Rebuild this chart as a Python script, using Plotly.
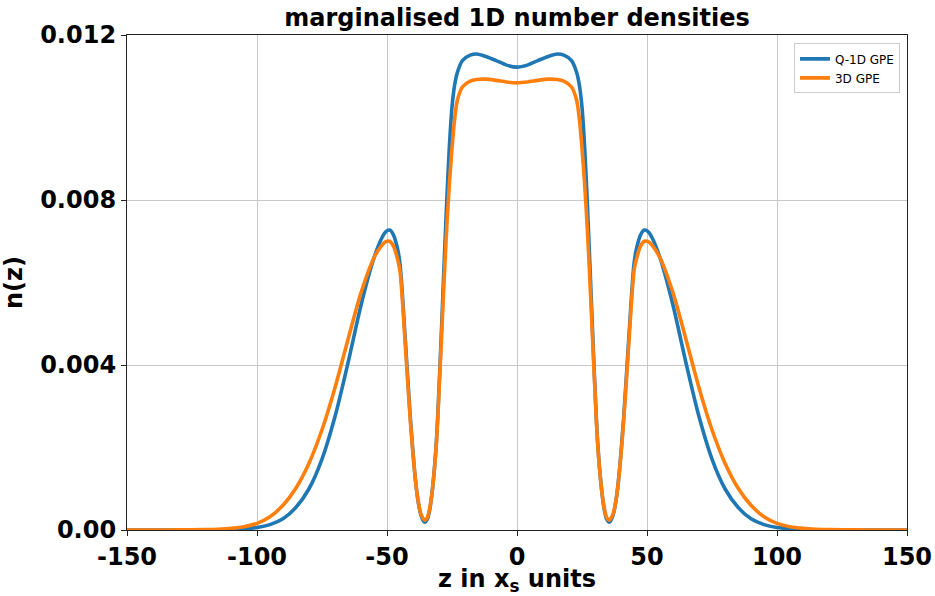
import plotly.graph_objects as go

# z positions (x_s units)
z = [-150, -140, -130, -120, -115, -110, -105, -100, -95, -90, -85, -80, -75, -70,
     -65, -60, -55, -52, -50.5, -49, -47.5, -46, -45, -43, -41, -39, -38, -37, -36,
     -35.4, -34.5, -33.5, -32.5, -31, -29.6, -28, -27, -26, -25, -24, -23, -21,
     -18, -15.5, -12, -8, -4, 0,
     4, 8, 12, 15.5, 18, 21, 23, 24, 25, 26, 27, 28, 29.6, 31, 32.5, 33.5, 34.5,
     35.4, 36, 37, 38, 39, 41, 43, 45, 46, 47.5, 49, 50.5, 52, 55, 60, 65, 70, 75,
     80, 85, 90, 95, 100, 105, 110, 115, 120, 130, 140, 150]

# Q-1D GPE
n_q1d = [0, 0, 0.000001, 0.000003, 0.000006, 0.000014, 0.00003, 0.00006, 0.00013,
         0.00027, 0.00055, 0.00100, 0.00172, 0.00275, 0.00405, 0.00545, 0.00660,
         0.00708, 0.00723, 0.00727, 0.00715, 0.00683, 0.00645, 0.00465, 0.00270,
         0.00118, 0.00068, 0.00037, 0.00022, 0.00019, 0.00026, 0.00052, 0.00100,
         0.00215, 0.00400, 0.00650, 0.00800, 0.00930, 0.01025, 0.01078, 0.01108,
         0.01138, 0.01151, 0.01154, 0.01148, 0.01138, 0.01127, 0.01122,
         0.01127, 0.01138, 0.01148, 0.01154, 0.01151, 0.01138, 0.01108, 0.01078,
         0.01025, 0.00930, 0.00800, 0.00650, 0.00400, 0.00215, 0.00100, 0.00052,
         0.00026, 0.00019, 0.00022, 0.00037, 0.00068, 0.00118, 0.00270, 0.00465,
         0.00645, 0.00683, 0.00715, 0.00727, 0.00723, 0.00708, 0.00660, 0.00545,
         0.00405, 0.00275, 0.00172, 0.00100, 0.00055, 0.00027, 0.00013, 0.00006,
         0.00003, 0.000014, 0.000006, 0.000003, 0.000001, 0, 0]

# 3D GPE
n_3d = [0, 0.000001, 0.000003, 0.00001, 0.00002, 0.00004, 0.00008, 0.00016, 0.00032,
        0.00060, 0.00102, 0.00162, 0.00243, 0.00345, 0.00462, 0.00575, 0.00660,
        0.00690, 0.00699, 0.00700, 0.00688, 0.00658, 0.00628, 0.00452, 0.00262,
        0.00118, 0.00070, 0.00040, 0.00027, 0.00024, 0.00030, 0.00055, 0.00100,
        0.00210, 0.00390, 0.00610, 0.00735, 0.00840, 0.00925, 0.00995, 0.01040,
        0.01074, 0.01088, 0.01092, 0.01093, 0.01090, 0.01086, 0.01084,
        0.01086, 0.01090, 0.01093, 0.01092, 0.01088, 0.01074, 0.01040, 0.00995,
        0.00925, 0.00840, 0.00735, 0.00610, 0.00390, 0.00210, 0.00100, 0.00055,
        0.00030, 0.00024, 0.00027, 0.00040, 0.00070, 0.00118, 0.00262, 0.00452,
        0.00628, 0.00658, 0.00688, 0.00700, 0.00699, 0.00690, 0.00660, 0.00575,
        0.00462, 0.00345, 0.00243, 0.00162, 0.00102, 0.00060, 0.00032, 0.00016,
        0.00008, 0.00004, 0.00002, 0.00001, 0.000003, 0.000001, 0]

x_ticks = [-150, -100, -50, 0, 50, 100, 150]
x_tick_labels = ["-150", "-100", "-50", "0", "50", "100", "150"]
y_ticks = [0.0, 0.004, 0.008, 0.012]
y_tick_labels = ["0.00", "0.004", "0.008", "0.012"]

FONT = "DejaVu Sans"

fig = go.Figure()
fig.add_trace(go.Scatter(x=z, y=n_q1d, mode="lines", name="Q-1D GPE",
                         line=dict(color="#1f77b4", width=3.6, shape="spline", smoothing=0.8)))
fig.add_trace(go.Scatter(x=z, y=n_3d, mode="lines", name="3D GPE",
                         line=dict(color="#ff7f0e", width=3.6, shape="spline", smoothing=0.8)))

axis_common = dict(
    showline=True, linecolor="#222222", linewidth=1.2, mirror=True,
    ticks="outside", ticklen=5, tickwidth=1.2, tickcolor="#222222",
    showgrid=True, gridcolor="#c8c8c8", gridwidth=1, zeroline=False,
    automargin=False,
    tickfont=dict(family=FONT, size=24, color="black", weight="bold"),
)

fig.update_layout(
    width=935, height=596,
    margin=dict(l=127, r=28, t=35, b=66),
    paper_bgcolor="white", plot_bgcolor="white",
    title=dict(text="marginalised 1D number densities", x=0.5, xref="paper",
               xanchor="center", y=1 - 18 / 596, yanchor="middle",
               font=dict(family=FONT, size=24, color="black", weight="bold")),
    xaxis=dict(range=[-150, 150], tickvals=x_ticks, ticktext=x_tick_labels,
               title=dict(text="z in x<sub>s</sub> units", standoff=4,
                          font=dict(family=FONT, size=24, color="black", weight="bold")),
               **axis_common),
    yaxis=dict(range=[0, 0.012], tickvals=y_ticks, ticktext=y_tick_labels,
               title=dict(text="n(z)", standoff=14,
                          font=dict(family=FONT, size=24, color="black", weight="bold")),
               **axis_common),
    legend=dict(x=0.991, y=0.983, xanchor="right", yanchor="top",
                bgcolor="rgba(255,255,255,0.8)", bordercolor="#cccccc", borderwidth=1,
                font=dict(family=FONT, size=12, color="black"),
                tracegroupgap=0, itemwidth=30),
    showlegend=True,
)

fig.write_html("out.html")
